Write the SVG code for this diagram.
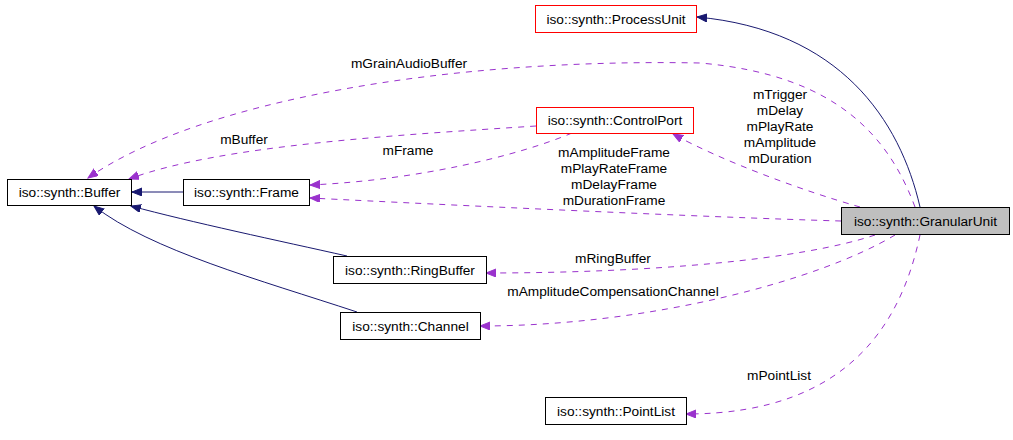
<svg xmlns="http://www.w3.org/2000/svg" width="1013" height="440" viewBox="0 0 1013 440">
<style>
text { font-family: "Liberation Sans", Arial, sans-serif; font-size: 13.7px; fill: #000; text-anchor: middle; }
.box { fill: #fff; stroke: #000; stroke-width: 1; }
.red { fill: #fff; stroke: #ff0000; stroke-width: 1; }
.cur { fill: #bfbfbf; stroke: #000; stroke-width: 1; }
.inh { fill: none; stroke: #191970; stroke-width: 1; marker-end: url(#navyArrow); }
.use { fill: none; stroke: #9a32cd; stroke-width: 1; stroke-dasharray: 6,6; marker-end: url(#purpleArrow); }
</style>
<defs>
<marker id="navyArrow" markerUnits="userSpaceOnUse" markerWidth="11" markerHeight="9" refX="10" refY="4" orient="auto" viewBox="0 0 11 9">
<path d="M0,0 L10,4 L0,8 z" fill="#191970" stroke="#191970" stroke-width="1"/>
</marker>
<marker id="purpleArrow" markerUnits="userSpaceOnUse" markerWidth="11" markerHeight="9" refX="10" refY="4" orient="auto" viewBox="0 0 11 9">
<path d="M0,0 L10,4 L0,8 z" fill="#9a32cd" stroke="#9a32cd" stroke-width="1"/>
</marker>
</defs>
<g id="edges">
<path class="inh" d="M183,192 L132,192"/>
<path class="inh" d="M347,256 C280,241 190,222 131,206"/>
<path class="inh" d="M357,312 C260,280 150,250 94,206"/>
<path class="inh" d="M920,207 C900,120 840,30 697,17"/>
<path class="use" d="M915,207 C890,140 840,75 700,63 C450,58 200,100 88,178"/>
<path class="use" d="M536,126 C400,135 220,145 129,179"/>
<path class="use" d="M572,133 C520,155 420,180 310,185"/>
<path class="use" d="M860,207 C800,190 720,160 673,134"/>
<path class="use" d="M841,221 C700,217 450,205 310,198"/>
<path class="use" d="M875,235 C800,260 650,273 486,273"/>
<path class="use" d="M895,235 C820,280 650,326 480,326"/>
<path class="use" d="M920,235 C903,315 855,414 686,414"/>
<text x="409" y="68">mGrainAudioBuffer</text>
<text x="244" y="144">mBuffer</text>
<text x="408" y="155">mFrame</text>
<text x="780" y="99">mTrigger</text>
<text x="780" y="115">mDelay</text>
<text x="780" y="131">mPlayRate</text>
<text x="780" y="147">mAmplitude</text>
<text x="780" y="163">mDuration</text>
<text x="614" y="157">mAmplitudeFrame</text>
<text x="614" y="173">mPlayRateFrame</text>
<text x="614" y="189">mDelayFrame</text>
<text x="614" y="205">mDurationFrame</text>
<text x="613" y="263">mRingBuffer</text>
<text x="613" y="296">mAmplitudeCompensationChannel</text>
<text x="779" y="380">mPointList</text>
</g>
<g id="node-ProcessUnit">
<rect class="red" x="535.5" y="5.5" width="161" height="27"/>
<text x="616" y="23.5">iso::synth::ProcessUnit</text>
</g>
<g id="node-ControlPort">
<rect class="red" x="536.5" y="107.5" width="157" height="26"/>
<text x="615" y="125">iso::synth::ControlPort</text>
</g>
<g id="node-Buffer">
<rect class="box" x="7.5" y="179.5" width="124" height="26"/>
<text x="69.5" y="197">iso::synth::Buffer</text>
</g>
<g id="node-Frame">
<rect class="box" x="183.5" y="179.5" width="126" height="26"/>
<text x="246.5" y="197">iso::synth::Frame</text>
</g>
<g id="node-GranularUnit">
<rect class="cur" x="841.5" y="207.5" width="168" height="27"/>
<text x="925.5" y="226">iso::synth::GranularUnit</text>
</g>
<g id="node-RingBuffer">
<rect class="box" x="333.5" y="256.5" width="153" height="27"/>
<text x="410" y="275">iso::synth::RingBuffer</text>
</g>
<g id="node-Channel">
<rect class="box" x="340.5" y="312.5" width="140" height="27"/>
<text x="410.5" y="331">iso::synth::Channel</text>
</g>
<g id="node-PointList">
<rect class="box" x="545.5" y="397.5" width="141" height="27"/>
<text x="616" y="416">iso::synth::PointList</text>
</g>
</svg>
